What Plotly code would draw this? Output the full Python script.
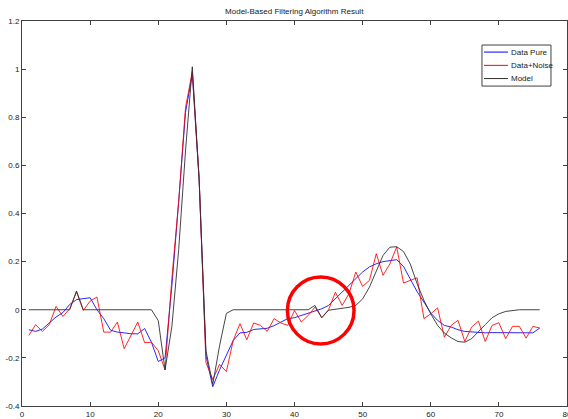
import plotly.graph_objects as go

x_vals = list(range(1, 77))

data_pure = [-0.083, -0.09, -0.08, -0.055, -0.03, -0.012, 0.022, 0.042, 0.046, 0.05,
             0.0, -0.037, -0.085, -0.093, -0.096, -0.1, -0.1, -0.078, -0.135, -0.215,
             -0.2, 0.1, 0.45, 0.82, 0.98, 0.54, -0.19, -0.32, -0.25, -0.19,
             -0.128, -0.096, -0.094, -0.082, -0.079, -0.077, -0.066, -0.05, -0.037, -0.033,
             -0.024, -0.014, -0.003, 0.004, 0.018, 0.046, 0.073, 0.1, 0.128, 0.157,
             0.178, 0.191, 0.2, 0.205, 0.208, 0.18, 0.125, 0.075, 0.032, -0.014,
             -0.044, -0.065, -0.072, -0.083, -0.09, -0.092, -0.095, -0.096, -0.095, -0.095,
             -0.095, -0.095, -0.095, -0.095, -0.096, -0.076]

data_noise = [-0.107, -0.062, -0.09, -0.062, 0.014, -0.028, 0.004, 0.074, -0.003, 0.036,
              0.053, -0.093, -0.093, -0.051, -0.162, -0.104, -0.051, -0.137, -0.135, -0.17,
              -0.25, 0.13, 0.45, 0.84, 0.99, 0.55, -0.22, -0.29, -0.227, -0.257,
              -0.128, -0.058, -0.125, -0.055, -0.065, -0.09, -0.037, -0.055, -0.065, -0.003,
              -0.051, -0.024, 0.011, -0.033, 0.0, 0.073, 0.018, 0.067, 0.157, 0.097,
              0.122, 0.233, 0.143, 0.191, 0.261, 0.111, 0.122, 0.133, -0.037, -0.017,
              0.008, -0.114, -0.065, -0.044, -0.132, -0.072, -0.047, -0.132, -0.065, -0.054,
              -0.12, -0.069, -0.069, -0.118, -0.069, -0.076]

model = [0, 0, 0, 0, 0, 0, 0, 0.078, 0, 0,
         0, 0, 0, 0, 0, 0, 0, 0, 0, -0.045,
         -0.25, -0.07, 0.25, 0.66, 1.01, 0.54, -0.17, -0.31, -0.15, -0.015,
         0, 0, 0, 0, 0, 0, 0, 0, 0, 0,
         0, 0, 0.018, -0.033, -0.002, 0.002, 0.005, 0.01, 0.018, 0.045,
         0.094, 0.16, 0.226, 0.26, 0.262, 0.242, 0.19, 0.108, 0.039, -0.017,
         -0.065, -0.097, -0.117, -0.132, -0.135, -0.12, -0.093, -0.062, -0.033, -0.017,
         -0.007, -0.003, 0, 0, 0, 0]

series_names = ["Data Pure", "Data+Noise", "Model"]
series_colors = ["#0000ff", "#ff0000", "#303030"]
y_ticks = [-0.4, -0.2, 0, 0.2, 0.4, 0.6, 0.8, 1, 1.2]
y_tick_text = ["-0.4", "-0.2", "0", "0.2", "0.4", "0.6", "0.8", "1", "1.2"]
x_ticks = [0, 10, 20, 30, 40, 50, 60, 70, 80]

# highlight circle (data coords)
circle_cx, circle_cy, circle_rx, circle_ry = 43.85, -0.003, 4.89, 0.139

FONT = "Liberation Sans Narrow, Arial Narrow, Liberation Sans, Arial"

fig = go.Figure()
for name, ys, col, w in zip(series_names, [data_pure, data_noise, model], series_colors,
                            [0.85, 0.85, 0.9]):
    fig.add_trace(go.Scatter(x=x_vals, y=ys, mode="lines", name=name,
                             line=dict(color=col, width=w), showlegend=False))

fig.add_shape(type="circle", xref="x", yref="y",
              x0=circle_cx - circle_rx, x1=circle_cx + circle_rx,
              y0=circle_cy - circle_ry, y1=circle_cy + circle_ry,
              line=dict(color="#ff0000", width=3.5))

# legend box (MATLAB style), paper coords of plot area
lg_x0, lg_x1, lg_y0, lg_y1 = 0.844, 0.9706, 0.831, 0.9376
lg_line_x0, lg_line_x1 = 0.8477, 0.8917
lg_rows = [0.9193, 0.8848, 0.8505]
fig.add_shape(type="rect", xref="paper", yref="paper", x0=lg_x0, x1=lg_x1, y0=lg_y0, y1=lg_y1,
              line=dict(color="#404040", width=1), fillcolor="white", layer="above")
for name, col, yy in zip(series_names, series_colors, lg_rows):
    fig.add_shape(type="line", xref="paper", yref="paper", x0=lg_line_x0, x1=lg_line_x1,
                  y0=yy, y1=yy, line=dict(color=col, width=1), layer="above")
    fig.add_annotation(xref="paper", yref="paper", x=lg_line_x1 + 0.002, y=yy, text=name,
                       showarrow=False, xanchor="left", yanchor="middle",
                       font=dict(size=8, color="#202020", family=FONT))

axis_common = dict(showgrid=False, zeroline=False, showline=True, linecolor="#404040",
                   linewidth=1, mirror="ticks", ticks="inside", ticklen=4,
                   tickcolor="#404040", automargin=False, ticklabeloverflow="allow",
                   tickfont=dict(size=8, color="#202020", family=FONT))

fig.update_layout(
    width=568, height=419,
    margin=dict(l=22, r=1, t=21, b=13),
    paper_bgcolor="white", plot_bgcolor="white",
    title=dict(text="Model-Based Filtering Algorithm Result", x=0.518, xanchor="center",
               y=0.973, yanchor="middle",
               font=dict(size=8, color="#202020", family=FONT)),
    xaxis=dict(range=[0, 80], tickvals=x_ticks, **axis_common),
    yaxis=dict(range=[-0.4, 1.2], tickvals=y_ticks, ticktext=y_tick_text, **axis_common),
    showlegend=False,
)

fig.write_html("out.html")
